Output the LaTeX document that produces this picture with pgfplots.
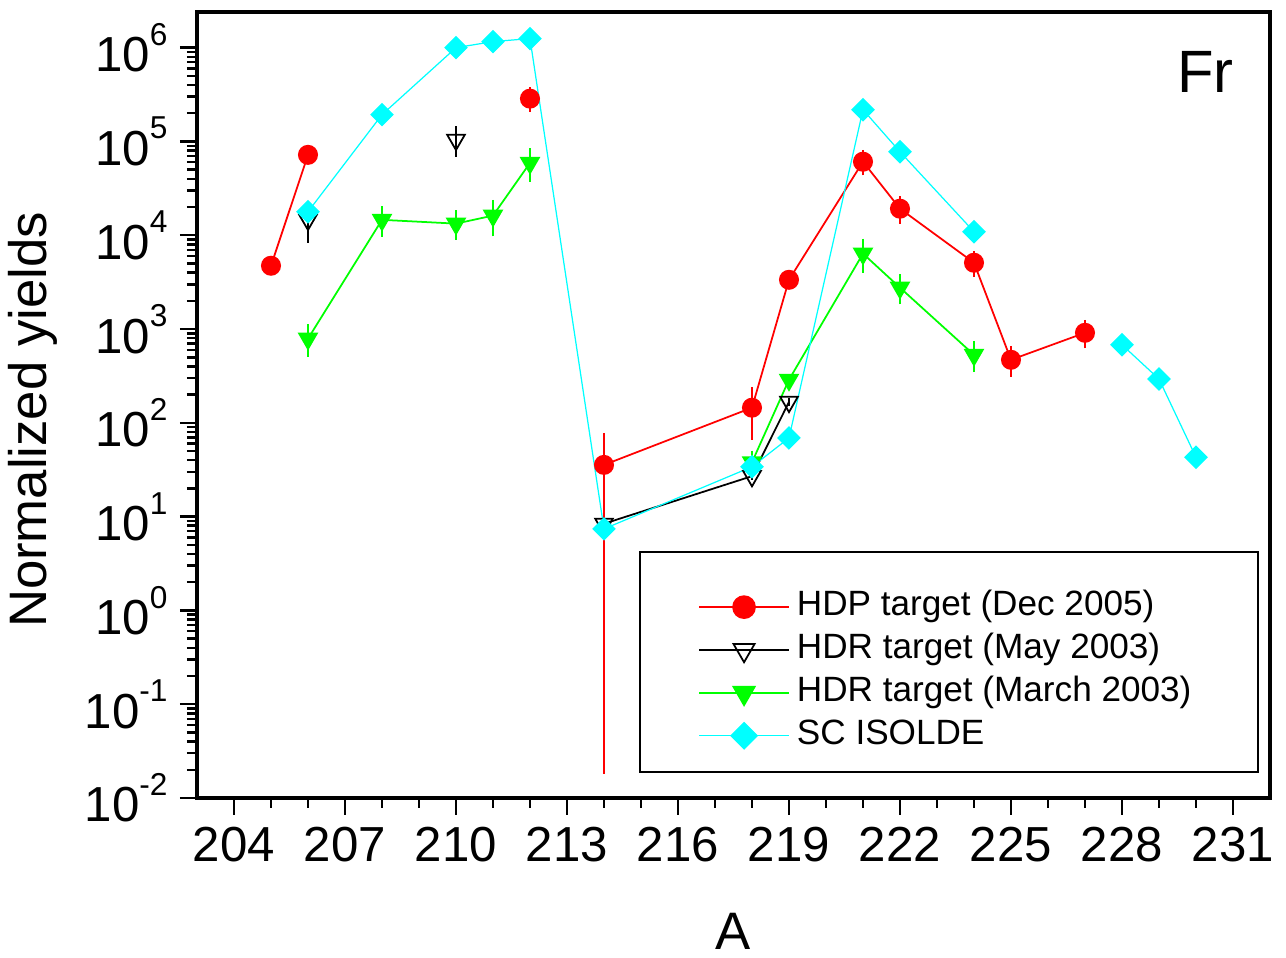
\documentclass[border=0pt]{standalone}
\usepackage{fontspec}
\setmainfont{Liberation Sans}
\usepackage{pgfplots}
\usepackage{pgfplotstable}
\pgfplotsset{compat=1.18}

\definecolor{cyn}{RGB}{0,255,255}
\definecolor{grn}{RGB}{0,255,0}
\definecolor{rd}{RGB}{255,0,0}

% tick label 10^n in the text font
\newcommand{\dec}[1]{10\raisebox{7.5pt}{\fontsize{9}{9}\selectfont #1}}

% x y err ; nan breaks the line
\pgfplotstableread{
x y e
205 4730 0
206 72000 0
207 nan 0
212 286000 57000
213 nan 0
214 35.6 35.58
218 145 72
219 3350 0
221 60800 13000
222 19200 4600
224 5090 1100
225 470 130
227 912 230
}\hdp
\pgfplotstableread{
x y e
206 14600 5500
207 nan 0
210 104000 28000
211 nan 0
214 8.4 0
218 27 0
219 167 0
}\hdrmay
\pgfplotstableread{
x y e
206 790 230
208 14600 4000
210 13300 3500
211 16200 5500
212 59000 18000
213 nan 0
218 38 8
219 288 0
221 6370 2000
222 2760 750
224 531 150
}\hdrmar
\pgfplotstableread{
x y
206 17800
208 193000
210 1.0e6
211 1.16e6
212 1.25e6
214 7.4
218 34
219 69
221 218000
222 77600
224 10900
225 nan
228 680
229 293
230 43
}\isolde

\begin{document}
\begin{tikzpicture}
\begin{axis}[
  scale only axis, width=107.3mm, height=78.6mm,
  xmin=203, xmax=232,
  ymode=log, ymin=1e-2, ymax=2.4e6,
  axis line style={line width=0.9pt},
  tick align=outside, tick pos=left,
  xtick={204,207,...,231}, minor x tick num=2,
  ytick={1e-2,1e-1,1,1e1,1e2,1e3,1e4,1e5,1e6},
  yticklabels={\dec{-2},\dec{-1},\dec{0},\dec{1},\dec{2},\dec{3},\dec{4},\dec{5},\dec{6}},
  major tick length=1.7mm, minor tick length=1mm,
  every tick/.style={black, line width=0.7pt},
  ticklabel style={font=\fontsize{14}{14}\selectfont},
  /pgf/number format/assume math mode=true,
  /pgf/number format/set thousands separator={},
  xlabel={A}, ylabel={Normalized yields},
  every axis x label/.style={at={(axis description cs:0.5,-0.170)},anchor=center,font=\fontsize{15}{15}\selectfont},
  every axis y label/.style={at={(axis description cs:-0.153,0.481)},rotate=90,anchor=center,font=\fontsize{15}{15}\selectfont},
  unbounded coords=jump,
  legend style={draw=none, fill=none, at={(axis description cs:0.4566,0.161)}, anchor=west,
    font=\fontsize{10}{10}\selectfont, row sep=0pt, column sep=0pt,
    nodes={inner ysep=1.1pt, text height=7.5pt, text depth=2.5pt}},
  legend cell align=left,
  legend image code/.code={
    \draw[mark repeat=2,mark phase=2,#1,every mark/.append style={scale=1.2}]
      plot coordinates {(0cm,0cm) (0.45cm,0cm) (0.9cm,0cm)};
  },
  ebar/.style={forget plot, draw=none, mark=none,
    error bars/.cd, y dir=both, y explicit,
    error bar style={draw=#1, line width=0.5pt},
    error mark options={draw=#1, mark size=1.1pt, line width=0.5pt}},
]
% error bars first, so the marks sit on top
\addplot[ebar=rd] table[x=x, y=y, y error=e] {\hdp};
\addplot[ebar=black] table[x=x, y=y, y error=e] {\hdrmay};
\addplot[ebar=grn] table[x=x, y=y, y error=e] {\hdrmar};

\addplot[rd, line width=0.5pt, mark=*, mark size=2.6pt] table[x=x, y=y] {\hdp};
\addlegendentry{HDP target (Dec 2005)}

\addplot[black, line width=0.5pt, mark=triangle, mark size=2.9pt, mark options={rotate=180, fill=white}]
  table[x=x, y=y] {\hdrmay};
\addlegendentry{HDR target (May 2003)}

\addplot[grn, line width=0.5pt, mark=triangle*, mark size=2.9pt, mark options={rotate=180}]
  table[x=x, y=y] {\hdrmar};
\addlegendentry{HDR target (March 2003)}

\addplot[cyn, line width=0.35pt, mark=square*, mark size=2.2pt, mark options={rotate=45}]
  table[x=x, y=y] {\isolde};
\addlegendentry{SC ISOLDE}

\draw[line width=0.6pt] (axis description cs:0.413,0.033) rectangle (axis description cs:0.989,0.313);
\node[font=\fontsize{17}{17}\selectfont] at (axis description cs:0.94,0.924) {Fr};
\end{axis}
\pgfresetboundingbox
\path (current axis.south west) ++(-19.7mm,-16mm) rectangle ++(128.6mm,95.8mm);
\end{tikzpicture}
\end{document}
